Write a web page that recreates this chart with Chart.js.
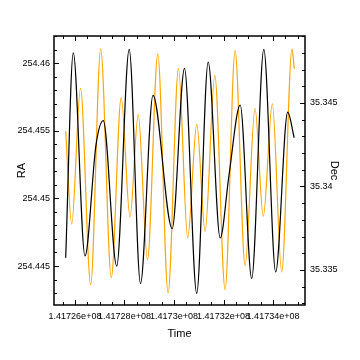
<!DOCTYPE html>
<html>
<head>
<meta charset="utf-8">
<script src="https://cdn.jsdelivr.net/npm/chart.js@4.4.0/dist/chart.umd.min.js"></script>
<style>
  html, body { margin: 0; padding: 0; background: #fff; }
</style>
</head>
<body>
<canvas id="raDecChart" width="360" height="360"></canvas>
<script>
// values (peaks, troughs, a few bends)
const raTime = [141725624, 141725931, 141726404, 141726848, 141727143, 141727685, 141728190, 141728646,
  141729151, 141729927, 141730424, 141730917, 141731381, 141731866, 141732222, 141732674,
  141733139, 141733628, 141734108, 141734593, 141734856];
const raValues = [254.44561, 254.46076, 254.44574, 254.45394, 254.45575, 254.44500, 254.46101, 254.44371,
  254.45761, 254.44777, 254.45961, 254.44298, 254.46007, 254.44707, 254.45172, 254.45690,
  254.44408, 254.46101, 254.44456, 254.45638, 254.45448];

const decTime = [141725624, 141725867, 141726222, 141726634, 141727038, 141727467, 141727866, 141728222,
  141728553, 141728929, 141729345, 141729761, 141730181, 141730553, 141730921, 141731256,
  141731648, 141732064, 141732468, 141732872, 141733272, 141733607, 141733971, 141734351,
  141734767, 141734860];
const decValues = [35.34332, 35.33774, 35.34588, 35.33412, 35.34822, 35.33454, 35.34532, 35.33817,
  35.34430, 35.33562, 35.34792, 35.33362, 35.34707, 35.33692, 35.34372, 35.33731,
  35.34665, 35.33382, 35.34813, 35.33527, 35.34466, 35.33821, 35.34494, 35.33488,
  35.34822, 35.34705];

const timeTicks = [141726000, 141728000, 141730000, 141732000, 141734000];
const raTicks = [254.445, 254.45, 254.455, 254.46];
const decTicks = [35.335, 35.34, 35.345];

const FONT = 'Liberation Sans';

function sciLabel(v) {
  return Number(v).toExponential().replace(/e([+-])(\d)$/, 'e$10$2');
}

// box round the plot with inward major/minor ticks
const frameTicks = {
  id: 'frameTicks',
  afterDatasetsDraw(chart) {
    const { ctx, chartArea: a, scales } = chart;
    ctx.save();
    ctx.strokeStyle = '#000';
    ctx.lineWidth = 1;
    ctx.beginPath();

    const x = scales.x;
    for (let k = Math.ceil(x.min / 500); k * 500 <= x.max; k++) {
      const px = Math.round(x.getPixelForValue(k * 500)) + 0.5;
      const len = (k % 4 === 0) ? 5 : 3;
      ctx.moveTo(px, a.bottom); ctx.lineTo(px, a.bottom - len);
      ctx.moveTo(px, a.top); ctx.lineTo(px, a.top + len);
    }
    const sideTicks = (scale, edge, dir) => {
      for (let k = Math.ceil(scale.min / 0.001 - 1e-6); k * 0.001 <= scale.max + 1e-9; k++) {
        const py = Math.round(scale.getPixelForValue(k * 0.001)) + 0.5;
        const len = (k % 5 === 0) ? 5 : 3;
        ctx.moveTo(edge, py); ctx.lineTo(edge + dir * len, py);
      }
    };
    sideTicks(scales.y, a.left, 1);
    sideTicks(scales.y1, a.right, -1);
    ctx.stroke();

    ctx.lineWidth = 1.5;
    ctx.strokeRect(a.left, a.top, a.right - a.left, a.bottom - a.top);
    ctx.restore();
  }
};

const ctx = document.getElementById('raDecChart').getContext('2d');

new Chart(ctx, {
  type: 'line',
  data: {
    datasets: [{
      label: 'RA',
      data: raTime.map((t, i) => ({ x: t, y: raValues[i] })),
      yAxisID: 'y',
      borderColor: '#000000',
      borderWidth: 1.2,
      pointRadius: 0,
      cubicInterpolationMode: 'monotone',
      fill: false
    },
    {
      label: 'Dec',
      data: decTime.map((t, i) => ({ x: t, y: decValues[i] })),
      yAxisID: 'y1',
      borderColor: '#FFA500',
      borderWidth: 1.2,
      pointRadius: 0,
      cubicInterpolationMode: 'monotone',
      fill: false
    }]
  },
  options: {
    responsive: false,
    animation: false,
    devicePixelRatio: 1,
    layout: { padding: { top: 36, left: 0, right: 0, bottom: 0 } },
    plugins: {
      legend: { display: false },
      tooltip: { enabled: false }
    },
    scales: {
      x: {
        type: 'linear',
        position: 'bottom',
        min: 141725152,
        max: 141735292,
        afterBuildTicks: s => { s.ticks = timeTicks.map(v => ({ value: v })); },
        afterFit: s => { s.height = 55; },
        grid: { display: false, drawTicks: false },
        border: { display: false },
        ticks: {
          autoSkip: false,
          maxRotation: 0,
          padding: 6,
          color: '#000',
          font: { family: FONT, size: 9 },
          callback: v => sciLabel(v)
        },
        title: {
          display: true,
          text: 'Time',
          color: '#000',
          font: { family: FONT, size: 11 },
          padding: { top: 0, bottom: 19 }
        }
      },
      y: {
        type: 'linear',
        position: 'left',
        min: 254.44212,
        max: 254.462,
        afterBuildTicks: s => { s.ticks = raTicks.map(v => ({ value: v })); },
        afterFit: s => { s.width = 54; },
        grid: { display: false, drawTicks: false },
        border: { display: false },
        ticks: {
          autoSkip: false,
          padding: 4,
          color: '#000',
          font: { family: FONT, size: 9 },
          callback: v => String(v)
        },
        title: {
          display: true,
          text: 'RA',
          color: '#000',
          font: { family: FONT, size: 11 },
          padding: { top: 15, bottom: 0 }
        }
      },
      y1: {
        type: 'linear',
        position: 'right',
        min: 35.33290,
        max: 35.34901,
        afterBuildTicks: s => { s.ticks = decTicks.map(v => ({ value: v })); },
        afterFit: s => { s.width = 55; },
        grid: { display: false, drawTicks: false },
        border: { display: false },
        ticks: {
          autoSkip: false,
          padding: 5,
          color: '#000',
          font: { family: FONT, size: 9 },
          callback: v => String(v)
        },
        title: {
          display: true,
          text: 'Dec',
          color: '#000',
          font: { family: FONT, size: 11 },
          padding: { top: 19, bottom: 0 }
        }
      }
    }
  },
  plugins: [frameTicks]
});
</script>
</body>
</html>
